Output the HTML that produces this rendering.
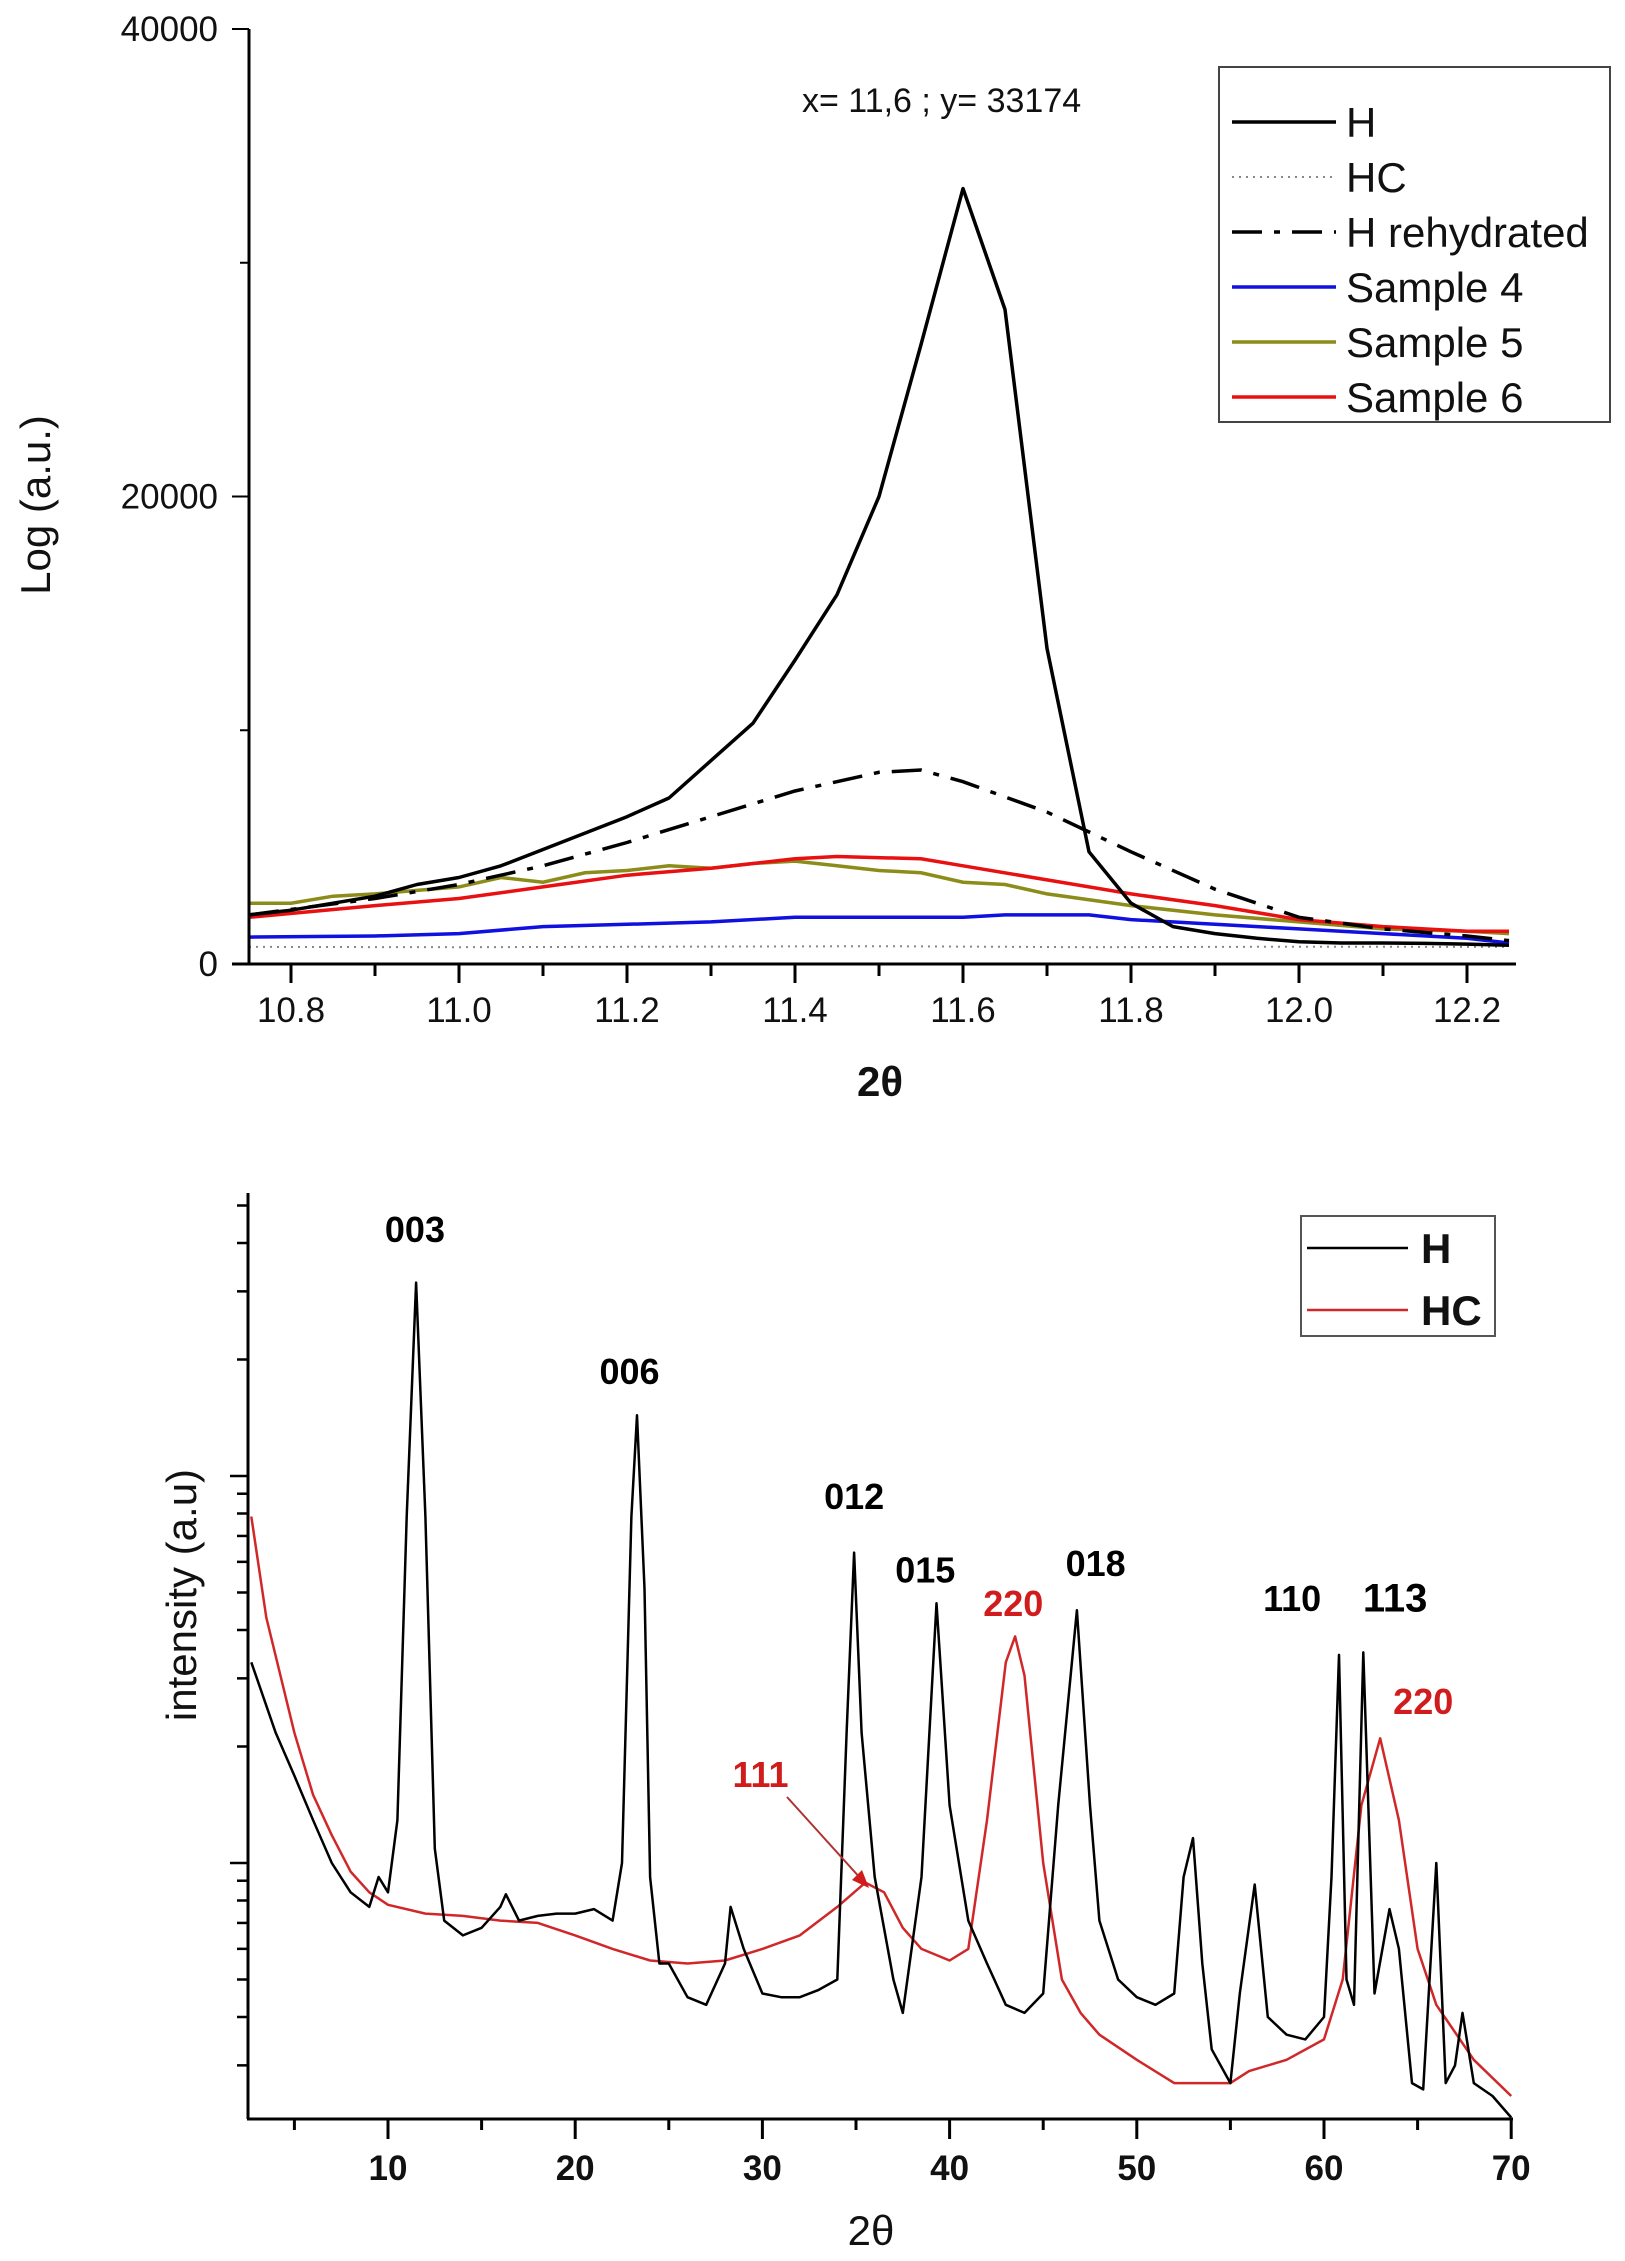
<!DOCTYPE html>
<html><head><meta charset="utf-8"><style>
html,body{margin:0;padding:0;background:#fff}
svg{display:block}
text{font-family:"Liberation Sans",Arial,sans-serif}
</style></head><body>
<svg id="fig" width="1625" height="2261" viewBox="0 0 1625 2261" xmlns="http://www.w3.org/2000/svg">
<g id="top"></g>
<g id="bot"></g>
</svg>
<script>
// ---------- top chart data ----------
const topXTicks = [10.8, 11.0, 11.2, 11.4, 11.6, 11.8, 12.0, 12.2];
const topXTickLabels = ["10.8","11.0","11.2","11.4","11.6","11.8","12.0","12.2"];
const topYTicks = [0, 20000, 40000];
const topYTickLabels = ["0","20000","40000"];
const hX = [10.75,10.8,10.85,10.9,10.95,11.0,11.05,11.1,11.15,11.2,11.25,11.3,11.35,11.4,11.45,11.5,11.55,11.6,11.65,11.7,11.75,11.8,11.85,11.9,11.95,12.0,12.05,12.1,12.15,12.2,12.25];
const hY = [2100,2300,2600,2900,3400,3700,4200,4900,5600,6300,7100,8700,10300,13000,15800,20000,26500,33174,28000,13500,4800,2600,1600,1300,1100,950,900,900,880,850,800];
const rehX = [10.75,10.9,11.0,11.1,11.2,11.3,11.4,11.5,11.55,11.6,11.7,11.8,11.9,12.0,12.1,12.2,12.25];
const rehY = [2100,2800,3400,4200,5200,6300,7400,8200,8300,7800,6500,4800,3200,2000,1500,1200,1000];
const s5X = [10.75,10.8,10.85,10.9,11.0,11.05,11.1,11.15,11.2,11.25,11.3,11.35,11.4,11.45,11.5,11.55,11.6,11.65,11.7,11.8,11.9,12.0,12.1,12.2,12.25];
const s5Y = [2600,2600,2900,3000,3300,3700,3500,3900,4000,4200,4100,4300,4400,4200,4000,3900,3500,3400,3000,2500,2100,1800,1500,1400,1300];
const s6X = [10.75,10.9,11.0,11.1,11.2,11.3,11.4,11.45,11.55,11.6,11.7,11.8,11.9,12.0,12.1,12.2,12.25];
const s6Y = [2000,2500,2800,3300,3800,4100,4500,4600,4500,4200,3600,3000,2500,1900,1600,1400,1400];
const s4X = [10.75,10.9,11.0,11.1,11.2,11.3,11.4,11.5,11.6,11.65,11.75,11.8,11.9,12.0,12.1,12.2,12.25];
const s4Y = [1150,1200,1300,1600,1700,1800,2000,2000,2000,2100,2100,1900,1700,1500,1300,1100,900];
const hcX = [10.75,11.0,11.25,11.5,11.75,12.0,12.25];
const hcY = [730,720,740,760,720,740,730];

// ---------- bottom chart data ----------
const botXTicks = [10,20,30,40,50,60,70];
const botXTickLabels = ["10","20","30","40","50","60","70"];
const bHX = [2.7,4,5,6,7,8,9,9.5,10,10.5,11,11.5,12,12.5,13,14,15,16,16.3,17,18,19,20,21,22,22.5,23,23.3,23.7,24,24.5,25,26,27,28,28.3,29,30,31,32,33,34,34.5,34.9,35.3,36,37,37.5,38.5,39.3,40,41,42,43,44,45,45.8,46.8,47.5,48,49,50,51,52,52.5,53,53.5,54,55,55.5,56.3,57,58,59,60,60.4,60.8,61.2,61.6,62.1,62.7,63.5,64,64.7,65.3,66,66.5,67,67.4,68,69,70];
const bHY = [330,217,168,129,100,84,77,92,84,129,786,3160,786,109,71,65,68,77,83,71,73,74,74,76,71,100,786,1435,512,92,55,55,45,43,55,77,60,46,45,45,47,50,217,634,217,92,50,41,92,469,141,71,55,43,41,46,141,450,141,71,50,45,43,46,92,116,55,33,27,46,88,40,36,35,40,92,345,50,43,350,46,76,60,27,26,100,27,30,41,27,25,22];
const bHCX = [2.7,3.5,5,6,7,8,9,10,12,14,16,18,20,22,24,26,28,30,32,34,35.5,36.5,37.5,38.5,40,41,42,43,43.5,44,45,46,47,48,50,52,54,55,56,58,60,61,62,63,64,65,66,68,70];
const bHCY = [786,431,217,150,118,95,84,78,74,73,71,70,65,60,56,55,56,60,65,77,89,84,68,60,56,60,129,330,385,305,100,50,41,36,31,27,27,27,29,31,35,50,141,210,129,60,43,31,25];
const peakLabels = ["003","006","012","015","220","018","110","113","220","111"];
const peakLabelX = [11.44,22.9,34.9,38.7,43.4,47.8,58.3,63.8,65.3,29.9];
const peakLabelVal = [4025,1730,822,530,435,552,448,446,243,157];
const peakLabelColor = ["#000","#000","#000","#000","#d01c1c","#000","#000","#000","#d01c1c","#d01c1c"];

const NS="http://www.w3.org/2000/svg";
function mk(parent,tag,attrs){const e=document.createElementNS(NS,tag);for(const k in attrs)e.setAttribute(k,attrs[k]);parent.appendChild(e);return e;}

// ---- top chart ----
const T=document.getElementById('top');
const tx=v=>291+(v-10.8)*840;
const ty=v=>964-v*(935/40000);
function tpath(xs,ys){return xs.map((x,i)=>(i?'L':'M')+tx(x).toFixed(1)+','+ty(ys[i]).toFixed(1)).join(' ');}
let p;
p=mk(T,'path',{d:tpath(hcX,hcY),fill:'none',stroke:'#888',"stroke-width":2,"stroke-dasharray":"2,5"});


p=mk(T,'path',{d:tpath(s4X,s4Y),fill:'none',stroke:'#1010e0',"stroke-width":3.5});


p=mk(T,'path',{d:tpath(s5X,s5Y),fill:'none',stroke:'#8c8c1a',"stroke-width":3.5});


p=mk(T,'path',{d:tpath(s6X,s6Y),fill:'none',stroke:'#e81010',"stroke-width":3.5});


p=mk(T,'path',{d:tpath(rehX,rehY),fill:'none',stroke:'#000',"stroke-width":3.5,"stroke-dasharray":"30,12,6,12"});


p=mk(T,'path',{d:tpath(hX,hY),fill:'none',stroke:'#000',"stroke-width":3.5,"stroke-linejoin":"round"});


// axes
p=mk(T,'line',{x1:249,y1:29,x2:249,y2:964,stroke:'#000',"stroke-width":3});


p=mk(T,'line',{x1:232,y1:964,x2:1516,y2:964,stroke:'#000',"stroke-width":3});


for(let v=10.8;v<12.26;v+=0.1){const x=tx(v);const major=Math.round(v*10)%2===0;mk(T,'line',{x1:x,y1:964,x2:x,y2:major?983:976,stroke:'#000',"stroke-width":3});}
for(let v=0;v<=40000;v+=10000){mk(T,'line',{x1:249,y1:ty(v),x2:v%20000===0?232:240,y2:ty(v),stroke:'#000',"stroke-width":2});}
topXTicks.forEach((v,i)=>{const t=mk(T,'text',{x:tx(v),y:1022,"font-size":35,"text-anchor":"middle",fill:'#111'});t.textContent=topXTickLabels[i];

});
topYTicks.forEach((v,i)=>{const t=mk(T,'text',{x:218,y:ty(v)+12,"font-size":35,"text-anchor":"end",fill:'#111'});t.textContent=topYTickLabels[i];

});
</script>
<script>
const T2=document.getElementById('top');
let q;
q=mk(T2,'text',{x:50,y:505,"font-size":42,"text-anchor":"middle",transform:"rotate(-90 50 505)",fill:'#111'});q.textContent='Log (a.u.)';


q=mk(T2,'text',{x:880,y:1096,"font-size":42,"font-weight":"bold","text-anchor":"middle","font-family":"Liberation Serif, serif",fill:'#111'});q.textContent='2θ';


q=mk(T2,'text',{x:802,y:112,"font-size":34,fill:'#111'});q.textContent='x= 11,6  ; y= 33174';


const lg=mk(T2,'g',{});


mk(lg,'rect',{x:1219,y:67,width:391,height:355,fill:'#fff',stroke:'#444',"stroke-width":2});
const lgNames=['H','HC','H rehydrated','Sample 4','Sample 5','Sample 6'];
const lgStroke=['#000','#888','#000','#1010e0','#8c8c1a','#e81010'];
const lgDash=['','2,5','30,12,6,12','','',''];
lgNames.forEach((n,i)=>{const y=122+i*55;
 const l=mk(lg,'line',{x1:1232,y1:y,x2:1336,y2:y,stroke:lgStroke[i],"stroke-width":i==1?2:3.5});if(lgDash[i])l.setAttribute('stroke-dasharray',lgDash[i]);
 const t=mk(lg,'text',{x:1346,y:y+15,"font-size":42,fill:'#111'});t.textContent=n;
 
 });

// ---- bottom chart ----
const B=document.getElementById('bot');
const bx=v=>388+(v-10)*18.72;
const by=v=>1476-387*Math.log10(v/1000);
function bpath(xs,ys){return xs.map((x,i)=>(i?'L':'M')+bx(x).toFixed(1)+','+by(ys[i]).toFixed(1)).join(' ');}
q=mk(B,'path',{d:bpath(bHCX,bHCY),fill:'none',stroke:'#d02828',"stroke-width":2.5,"stroke-linejoin":"round"});


q=mk(B,'path',{d:bpath(bHX,bHY),fill:'none',stroke:'#000',"stroke-width":2.5,"stroke-linejoin":"round"});


q=mk(B,'line',{x1:248,y1:1193,x2:248,y2:2119,stroke:'#000',"stroke-width":3});


q=mk(B,'line',{x1:247,y1:2119,x2:1513,y2:2119,stroke:'#000',"stroke-width":3});


for(let v=5;v<=70;v+=5){const x=bx(v);mk(B,'line',{x1:x,y1:2119,x2:x,y2:v%10===0?2139:2130,stroke:'#000',"stroke-width":3});}
[10,100,1000].forEach(d=>{for(let m=1;m<10;m++){const v=d*m;const y=by(v);if(y<1193||y>2119)continue;mk(B,'line',{x1:248,y1:y,x2:m===1?230:237,y2:y,stroke:'#000',"stroke-width":2.5});}});
botXTicks.forEach((v,i)=>{const t=mk(B,'text',{x:bx(v),y:2180,"font-size":35,"font-weight":"bold","text-anchor":"middle",fill:'#111'});t.textContent=botXTickLabels[i];

});
q=mk(B,'text',{x:196,y:1595,"font-size":42,"text-anchor":"middle",transform:"rotate(-90 196 1595)",fill:'#111'});q.textContent='intensity (a.u)';


q=mk(B,'text',{x:871,y:2245,"font-size":42,"text-anchor":"middle","font-family":"Liberation Serif, serif",fill:'#111'});q.textContent='2θ';


peakLabels.forEach((n,i)=>{const t=mk(B,'text',{x:bx(peakLabelX[i]),y:by(peakLabelVal[i]),"font-size":i==7?40:36,"font-weight":"bold","text-anchor":"middle",fill:peakLabelColor[i]});t.textContent=n;

});
q=mk(B,'line',{x1:787,y1:1797,x2:862,y2:1880,stroke:'#b03030',"stroke-width":2});


mk(B,'polygon',{points:"869,1888 852,1880 862,1870",fill:'#d01c1c'});
const lg2=mk(B,'g',{});


mk(lg2,'rect',{x:1301,y:1216,width:194,height:120,fill:'#fff',stroke:'#555',"stroke-width":2});
['H','HC'].forEach((n,i)=>{const y=1248+i*62;mk(lg2,'line',{x1:1307,y1:y,x2:1408,y2:y,stroke:i?'#d02828':'#000',"stroke-width":2.5});
 const t=mk(lg2,'text',{x:1421,y:y+15,"font-size":42,"font-weight":"bold",fill:'#111'});t.textContent=n;
 
 });
</script>
</body></html>
